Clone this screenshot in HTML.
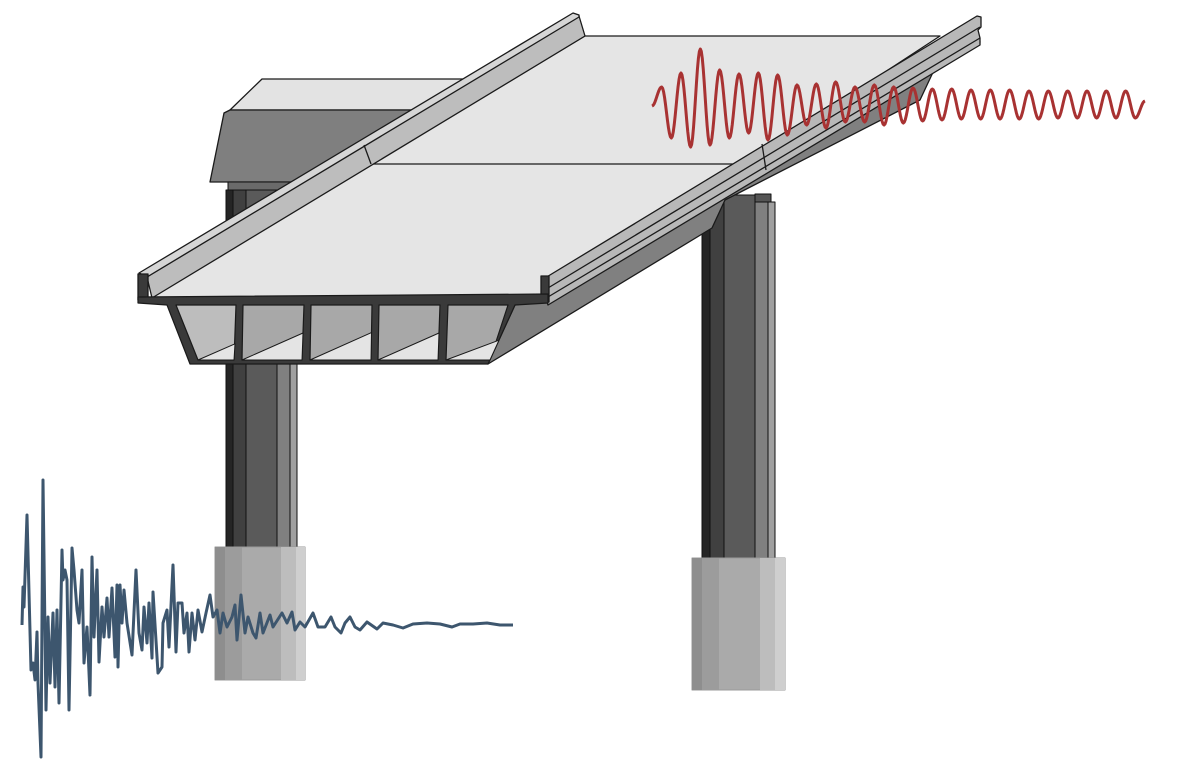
<!DOCTYPE html>
<html><head><meta charset="utf-8"><style>
html,body{margin:0;padding:0;background:#fff;}
svg{display:block;}
</style></head><body>
<svg id="scene" width="1178" height="779" viewBox="0 0 1178 779" xmlns="http://www.w3.org/2000/svg" stroke-linejoin="round">
<g stroke="#1a1a1a" stroke-width="1.3">
  <polygon points="230,110 262,79 480,79 440,110" fill="#e3e3e3"/>
  <polygon points="224,113 230,110 440,110 420,182 210,182" fill="#7f7f7f"/>
</g>
<g stroke="#111" stroke-width="1">
  <rect x="228" y="182" width="72" height="8" fill="#6a6a6a"/>
  <rect x="226" y="190" width="7" height="357" fill="#252525"/>
  <rect x="233" y="190" width="13" height="357" fill="#404040"/>
  <rect x="246" y="190" width="31" height="357" fill="#5a5a5a"/>
  <rect x="277" y="190" width="13" height="357" fill="#808080"/>
  <rect x="290" y="190" width="7" height="357" fill="#a0a0a0"/>
</g>
<g>
  <rect x="215" y="547" width="90" height="133" fill="#aaaaaa" stroke="#999" stroke-width="1"/>
  <rect x="215" y="547" width="10" height="133" fill="#8e8e8e"/>
  <rect x="225" y="547" width="17" height="133" fill="#9c9c9c"/>
  <rect x="281" y="547" width="15" height="133" fill="#bdbdbd"/>
  <rect x="296" y="547" width="9" height="133" fill="#cfcfcf"/>
</g>
<g stroke="#111" stroke-width="1">
  <rect x="755" y="194" width="16" height="10" fill="#555"/>
  <rect x="702" y="195" width="8" height="363" fill="#252525"/>
  <rect x="710" y="195" width="14" height="363" fill="#404040"/>
  <rect x="724" y="195" width="31" height="363" fill="#5a5a5a"/>
  <rect x="755" y="202" width="13" height="356" fill="#808080"/>
  <rect x="768" y="202" width="7" height="356" fill="#a0a0a0"/>
</g>
<g>
  <rect x="692" y="558" width="93" height="132" fill="#aaaaaa" stroke="#999" stroke-width="1"/>
  <rect x="692" y="558" width="10" height="132" fill="#8e8e8e"/>
  <rect x="702" y="558" width="17" height="132" fill="#9c9c9c"/>
  <rect x="760" y="558" width="15" height="132" fill="#bdbdbd"/>
  <rect x="775" y="558" width="10" height="132" fill="#cfcfcf"/>
</g>
<g stroke="#1a1a1a" stroke-width="1.3">
  <polygon points="488,364 515,305 548,300 980,42 935,68 920,100 725,200 712,228" fill="#808080"/>
  <polygon points="150,298 585,36 940,36 543,296" fill="#e5e5e5"/>
  <line x1="370" y1="164" x2="765" y2="164"/>
  <polygon points="147,277 579,16 585,36 152,298" fill="#bdbdbd"/>
  <polygon points="139,273 573,13 579,15 579,17 147,277" fill="#d6d6d6"/>
  <polygon points="138,274 148,274 148,300 138,300" fill="#3a3a3a"/>
  <line x1="364" y1="145" x2="371" y2="164"/>
  <polygon points="545,278 977,16 981,17 981,27 978,30 980,38 980,45 548,305 545,296" fill="#b8b8b8"/>
  <line x1="548" y1="288" x2="980" y2="27"/>
  <line x1="548" y1="297" x2="980" y2="38"/>
  <polygon points="541,276 549,276 549,302 541,300" fill="#3a3a3a"/>
  <line x1="762" y1="144" x2="766" y2="170"/>
</g>
<g id="section" stroke="#1a1a1a" stroke-width="1.2">
  <polygon points="138,297 548,294 548,303 515,305 488,364 190,364 167,305 138,303" fill="#3a3a3a"/>
</g>
<g id="waves"></g>
</svg>
<script>
// seismic ground record (blue): time (px from left) and amplitude (up positive)
const blueTimes = [22,23,24,27,31,33,35,37,38,41,43,46,48,50,53,55,57,59,62,63,65,67,69,72,74,77,79,82,84,87,90,92,94,97,99,102,104,107,109,112,115,117,118,120,122,124,127,132,136,139,142,144,147,149,152,153,158,162,163,167,169,173,176,178,182,184,187,189,192,195,198,202,206,210,213,217,220,223,227,232,235,237,241,245,248,253,256,260,263,270,273,282,287,292,295,300,305,313,318,325,331,335,341,345,350,355,360,367,377,383,393,403,413,427,440,452,460,473,487,500,513];
const blueAmps = [0,38,18,110,-45,-38,-55,-7,-58,-132,145,-85,8,-58,12,-62,15,-78,75,45,55,45,-85,77,55,15,2,55,-38,-2,-70,68,-12,55,-37,18,-12,27,-12,37,-32,40,-42,40,2,35,2,-30,55,-8,-25,18,-18,22,-33,33,-48,-42,2,15,-22,60,-27,22,22,-8,12,-27,12,-15,15,-7,12,30,8,15,-8,12,-2,8,20,-15,30,-8,8,-8,-13,12,-8,10,-2,12,2,13,-5,3,-2,12,-2,-2,8,-2,-8,2,8,-2,-5,3,-4,2,0,-3,1,2,1,-2,1,1,2,0,0];
// building response (red): successive extremes of each half-cycle (up positive)
const redExtremes = [-1,18,-33,32,-42,56,-40,35,-33,31,-28,32,-35,30,-30,20,-20,21,-23,23,-17,18,-17,20,-20,18,-18,17,-16,16,-15,16,-14,15,-14,15,-14,15,-14,14,-14,14,-13,14,-13,14,-13,14,-13,14,-13,4];

const NS='http://www.w3.org/2000/svg';
const blueX = t => t;
const blueY = a => 625 - a;
const redX = i => 652 + i*(1145-652)/(redExtremes.length-1);
const redY = a => 105 - a;

const cells=[[176,236,234,198],[243,304,302,242],[311,372,371,310],[379,440,438,378],[448,508,490,446]];
const sec=document.getElementById('section');
cells.forEach((c,i)=>{
  const p=document.createElementNS(NS,'polygon');
  p.setAttribute('points',`${c[0]},305 ${c[1]},305 ${c[2]},360 ${c[3]},360`);
  p.setAttribute('fill', i===0?'#bdbdbd':'#a8a8a8');
  
  
  sec.appendChild(p);
  const w=c[2]-c[3];
  const t=document.createElementNS(NS,'polygon');
  t.setAttribute('points',`${c[3]},360 ${c[2]},360 ${c[2]+(c[1]-c[2])*0.5},${360-w*0.45}`);
  t.setAttribute('fill','#e4e4e4');
  t.setAttribute('stroke-width','1');
  
  
  sec.appendChild(t);
});

const g=document.getElementById('waves');
let d='';
blueTimes.forEach((t,i)=>{ d+=(i?'L':'M')+blueX(t)+','+blueY(blueAmps[i]); });
const bp=document.createElementNS(NS,'path');
bp.setAttribute('d',d);
bp.setAttribute('fill','none');
bp.setAttribute('stroke','#3d566e');
bp.setAttribute('stroke-width','3');
bp.setAttribute('stroke-linejoin','round');


g.appendChild(bp);
let r='M'+redX(0)+','+redY(redExtremes[0]);
for(let i=0;i<redExtremes.length-1;i++){
  const a0=redExtremes[i], a1=redExtremes[i+1];
  for(let k=1;k<=10;k++){
    const f=k/10, w=(1-Math.cos(Math.PI*f))/2;
    r+='L'+(redX(i)+(redX(i+1)-redX(i))*f).toFixed(2)+','+redY(a0+(a1-a0)*w).toFixed(2);
  }
}
const rp=document.createElementNS(NS,'path');
rp.setAttribute('d',r);
rp.setAttribute('fill','none');
rp.setAttribute('stroke','#a83232');
rp.setAttribute('stroke-width','3');


g.appendChild(rp);
</script>
</body></html>
